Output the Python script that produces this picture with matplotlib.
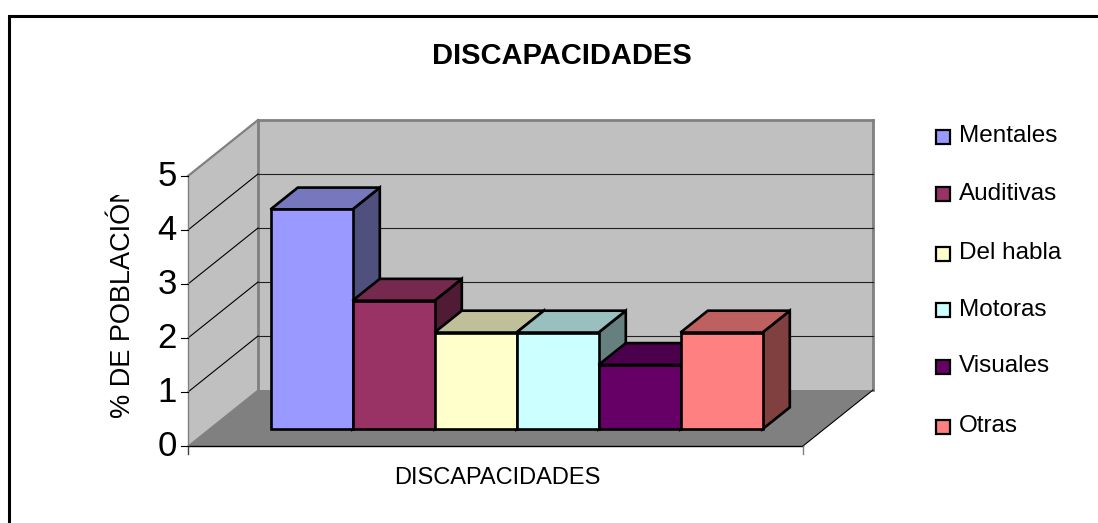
import matplotlib
matplotlib.use('Agg')
import matplotlib.pyplot as plt
from matplotlib.patches import Polygon, Rectangle

plt.rcParams['font.family'] = ['Liberation Sans', 'DejaVu Sans']

categories = ['Mentales', 'Auditivas', 'Del habla', 'Motoras', 'Visuales', 'Otras']
values = [4.07, 2.38, 1.79, 1.79, 1.19, 1.79]
front_colors = ['#9999FF', '#993366', '#FFFFCC', '#CCFFFF', '#660066', '#FF8080']
top_colors = ['#7777BD', '#76294E', '#BFBF99', '#99C0BF', '#4C004C', '#BF6060']
side_colors = ['#50507F', '#4F1B35', '#808066', '#668080', '#330033', '#804040']
y_ticks = [0, 1, 2, 3, 4, 5]

# pixel geometry of the fake 3d box
X0, X1 = 188, 803
Y0 = 446
UNIT = 54
DX, DY = 70, -56
BAR_W = (X1 - X0) / 7.5
D_FRONT, D_BACK = 0.30, 0.69


def pt(x, v, d=0):
    return (x + DX * d, Y0 - UNIT * v + DY * d)


def seg(a, b, **kw):
    ax.plot([a[0], b[0]], [a[1], b[1]], **kw)


fig = plt.figure(figsize=(10.98, 5.23), dpi=100)
ax = fig.add_axes([0, 0, 1, 1])
ax.set_xlim(0, 1098)
ax.set_ylim(523, 0)
ax.axis('off')

# outer frame, open on the right and at the bottom
ax.plot([9, 9, 1098], [523, 15.5, 15.5], color='black', lw=2.2, solid_joinstyle='miter')

# walls and floor
top = y_ticks[-1]
ax.add_patch(Polygon([pt(X0, 0, 1), pt(X1, 0, 1), pt(X1, top, 1), pt(X0, top, 1)],
                     fc='#C0C0C0', ec='none'))
ax.add_patch(Polygon([pt(X0, 0), pt(X0, 0, 1), pt(X0, top, 1), pt(X0, top)],
                     fc='#C0C0C0', ec='none'))
ax.add_patch(Polygon([pt(X0, 0), pt(X1, 0), pt(X1, 0, 1), pt(X0, 0, 1)],
                     fc='#808080', ec='none'))

# wall edges
seg(pt(X0, top), pt(X0, top, 1), color='#808080', lw=1.6)
seg(pt(X0, top, 1), pt(X1, top, 1), color='#808080', lw=2)
seg(pt(X1, top, 1), pt(X1, 0, 1), color='#808080', lw=2)
seg(pt(X0, 0, 1), pt(X0, top, 1), color='#808080', lw=2)

# gridlines
for v in y_ticks[1:-1]:
    seg(pt(X0, v), pt(X0, v, 1), color='black', lw=0.8)
    seg(pt(X0, v, 1), pt(X1, v, 1), color='#202020', lw=0.8)

# floor outline and axes
seg(pt(X1, 0), pt(X1, 0, 1), color='black', lw=0.8)
ax.plot([X0, X1], [Y0, Y0], color='black', lw=1)
ax.plot([X0, X0], [pt(X0, 0)[1], pt(X0, top)[1]], color='#808080', lw=1)
ax.plot([X0, X0], [Y0, Y0 + 8], color='#404040', lw=1)
ax.plot([X1, X1], [Y0, Y0 + 8], color='#808080', lw=1)
seg(pt(X0, 0), pt(X0, 0, 1), color='#808080', lw=0.8)

for v in y_ticks:
    x, y = pt(X0, v)
    ax.plot([x - 7, x], [y, y], color='black', lw=0.8)
    ax.text(x - 11, y, str(v), ha='right', va='center', fontsize=25)

# bars, left to right so later ones cover the sides of earlier ones
for i, v in enumerate(values):
    left = X0 + BAR_W * (0.75 + i)
    right = left + BAR_W
    base = [pt(left, 0, D_FRONT), pt(right, 0, D_FRONT)]
    f_l, f_r = pt(left, v, D_FRONT), pt(right, v, D_FRONT)
    b_l, b_r = pt(left, v, D_BACK), pt(right, v, D_BACK)
    s_b = pt(right, 0, D_BACK)
    kw = dict(ec='black', lw=1.9, joinstyle='miter', zorder=5 + i)
    ax.add_patch(Polygon([base[1], s_b, b_r, f_r], fc=side_colors[i], **kw))
    ax.add_patch(Polygon([f_l, f_r, b_r, b_l], fc=top_colors[i], **kw))
    ax.add_patch(Polygon([base[0], base[1], f_r, f_l], fc=front_colors[i], **kw))

# legend
leg_y = [137, 194, 253.5, 310, 367, 427]
for name, color, y in zip(categories, front_colors, leg_y):
    ax.add_patch(Rectangle((936, y - 7), 14, 14, fc=color, ec='black', lw=1.6))
    ax.text(959, y - 0.5, name, ha='left', va='center', fontsize=17.5)

# titles
ax.text(562, 56, 'DISCAPACIDADES', ha='center', va='center', fontsize=21, fontweight='bold')
ax.text(497.5, 478, 'DISCAPACIDADES', ha='center', va='center', fontsize=17)
# the label is cut off at the top in the original
clip = Rectangle((90, 195), 50, 240, transform=ax.transData)
yl = ax.text(130.5, 418, '% DE POBLACIÓN', rotation=90, ha='left', va='baseline', fontsize=19.5,
             rotation_mode='anchor', clip_on=True)
yl.set_clip_path(clip)

fig.savefig('out.png', dpi=100)
